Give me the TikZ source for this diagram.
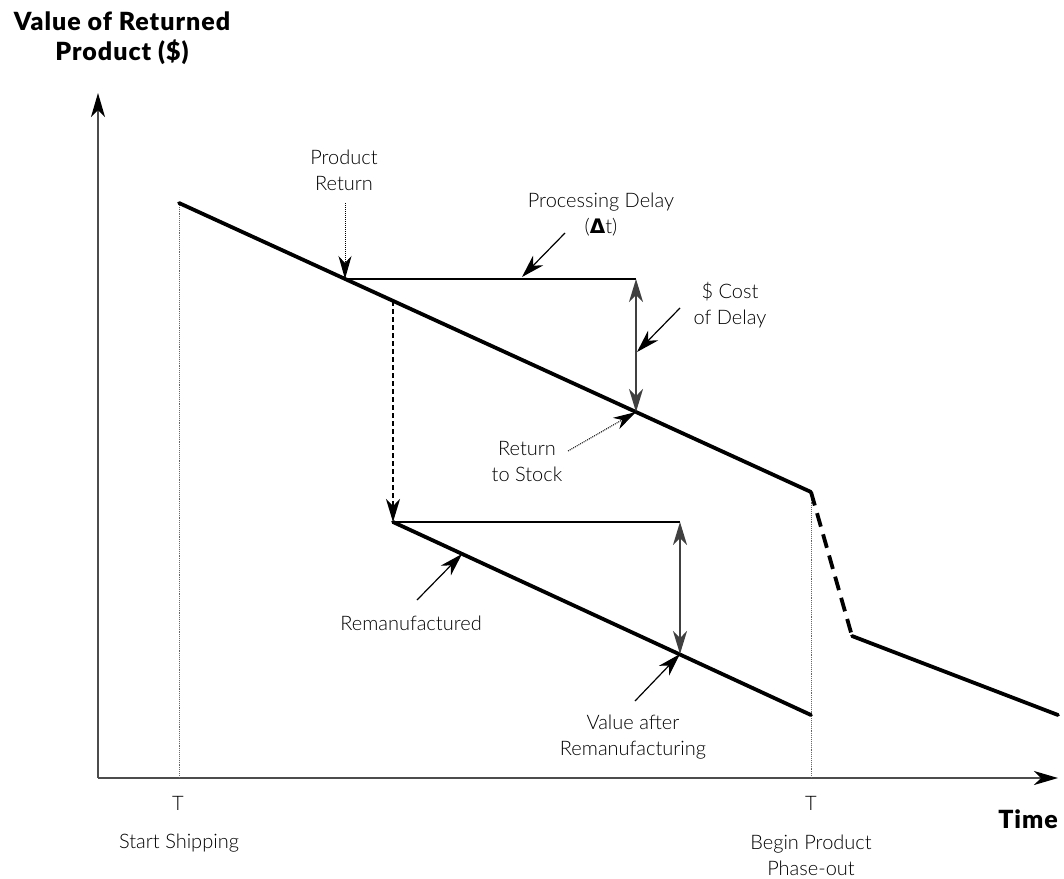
\documentclass[tikz,border=0pt]{standalone}
\usepackage[no-math]{fontspec}
\setmainfont{Lato}[UprightFont={* Light}, BoldFont={* Black}]
\newfontfamily\dejavu{DejaVu Sans}
\usetikzlibrary{arrows.meta}
\begin{document}
\begin{tikzpicture}[x=1pt,y=-1pt,
  lab/.style={font=\fontsize{20}{26}\selectfont, align=center, inner sep=0pt},
  ttl/.style={font=\bfseries\fontsize{25}{30}\selectfont\addfontfeature{LetterSpace=4}, align=center, inner sep=0pt},
  axisline/.style={draw=black!70, line width=1.8pt, -{Stealth[length=24pt,width=14pt,inset=7pt,color=black]}},
  valline/.style={line width=3.8pt, line cap=round, line join=round},
  valdash/.style={line width=3.8pt, dash pattern=on 14pt off 8pt},
  guide/.style={draw=black!60, line width=0.9pt, densely dotted},
  thinline/.style={line width=1.4pt},
  tipA/.tip={Stealth[length=23pt,width=14pt,inset=7pt]},
  pointer/.style={line width=1.2pt, -tipA},
  dotpointer/.style={line width=1pt, densely dotted, -{Stealth[length=23pt,width=13pt,inset=7pt,sep=0pt]}},
  dbl/.style={draw=black!75, line width=1.6pt, tipA-tipA},
]
\useasboundingbox (0,0) rectangle (1064,878);

% key points
\coordinate (O) at (98,778);
\coordinate (Ytip) at (98,93);
\coordinate (Xtip) at (1058,778);
\coordinate (S) at (179,203);
\coordinate (PR) at (345,279);
\coordinate (R) at (636,412);
\coordinate (K) at (811,492);
\coordinate (D) at (852,636);
\coordinate (E) at (1058,715);
\coordinate (Ltop) at (393,301);
\coordinate (L0) at (393,522);
\coordinate (L1) at (811,715);
\coordinate (H1) at (636,279);
\coordinate (H2) at (680,522);
\coordinate (V) at (680,654);
\coordinate (Sb) at (179,778);
\coordinate (Kb) at (811,778);
\coordinate (RemTip) at (462,554);
\coordinate (RemTail) at (417,600);
\coordinate (ValTail) at (635,701);
\coordinate (PDTip) at (522,277);
\coordinate (PDTail) at (565,233);
\coordinate (CTip) at (637,352);
\coordinate (CTail) at (680,308);
\coordinate (RSTail) at (568,451);
\coordinate (PRTail) at (345,203);

% axes
\draw[axisline] (O) -- (Ytip);
\draw[axisline] (O) -- (Xtip);

% guides
\draw[guide] (S) -- (Sb);
\draw[guide] (K) -- (Kb);

% value lines
\draw[valline] (S) -- (K);
\draw[valdash] (K) -- (D);
\draw[valline] (D) -- (E);
\draw[valline] (L0) -- (L1);

% delay construction
\draw[thinline] (PR) -- (H1);
\draw[dbl] (H1) -- (R);
\draw[thinline, dash pattern=on 5pt off 3pt, -tipA] (Ltop) -- (L0);
\draw[thinline] (L0) -- (H2);
\draw[dbl] (H2) -- (V);

% labels
\node[ttl] (title) at (122,38) {Value of Returned\\Product (\$)};
\node[lab] (prt) at (344,170) {Product\\Return};
\node[lab] (pd) at (601,215) {Processing Delay\\({\dejavu\bfseries Δ}t)};
\node[lab] (cost) at (730,305) {\$ Cost\\of Delay};
\node[lab] (rts) at (527,461) {Return\\to Stock};
\node[lab, anchor=base] (rem) at (411,630) {Remanufactured};
\node[lab] (vaf) at (633,737) {Value after\\Remanufacturing};
\node[lab, anchor=base] (t1) at (178,810) {T};
\node[lab, anchor=base] (t2) at (811,810) {T};
\node[lab, anchor=base] (ss) at (179,848) {Start Shipping};
\node[lab] (bp) at (811,855) {Begin Product\\Phase-out};
\node[ttl, anchor=base] (time) at (1028,828) {Time};

% pointers
\draw[dotpointer] (PRTail) -- (PR);
\draw[pointer] (PDTail) -- (PDTip);
\draw[pointer] (CTail) -- (CTip);
\draw[dotpointer] (RSTail) -- (R);
\draw[pointer] (RemTail) -- (RemTip);
\draw[pointer] (ValTail) -- (V);
\end{tikzpicture}
\end{document}
